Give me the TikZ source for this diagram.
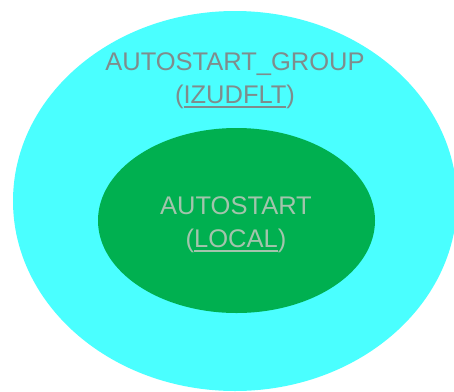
\documentclass[tikz,border=0pt]{standalone}
\usepackage{fontspec}
\setmainfont{Liberation Sans}
\usetikzlibrary{shapes.geometric}
\definecolor{outerfill}{HTML}{4AFFFF}
\definecolor{innerfill}{HTML}{00B050}
\definecolor{outertext}{HTML}{7F8C8C}
\definecolor{innertext}{HTML}{A3C4AC}
\newcommand{\myuline}[1]{\setbox0\hbox{#1}\rlap{\raisebox{-4.5pt}{\rule{\wd0}{1.4pt}}}\box0}
\tikzset{
  blob/.style={ellipse, draw=none, inner sep=0pt},
  lbl/.style={anchor=north, inner sep=0pt, align=center,
    font=\fontsize{25.5}{32.5}\selectfont}
}
\begin{document}
\begin{tikzpicture}[x=1pt,y=-1pt]
\useasboundingbox (0,0) rectangle (454,391);
\clip (0,0) rectangle (454,391);
\node[blob, fill=outerfill, minimum width=444pt, minimum height=380pt] (outer) at (235,201) {};
\node[blob, fill=innerfill, minimum width=277pt, minimum height=185pt] (inner) at (236.5,220.5) {};
\node[lbl, text=outertext] (outerlabel) at (235,52.7) {AUTOSTART\_GROUP\\(\myuline{IZUDFLT})};
\node[lbl, text=innertext] (innerlabel) at (236,196.7) {AUTOSTART\\(\myuline{LOCAL})};
\end{tikzpicture}
\end{document}
